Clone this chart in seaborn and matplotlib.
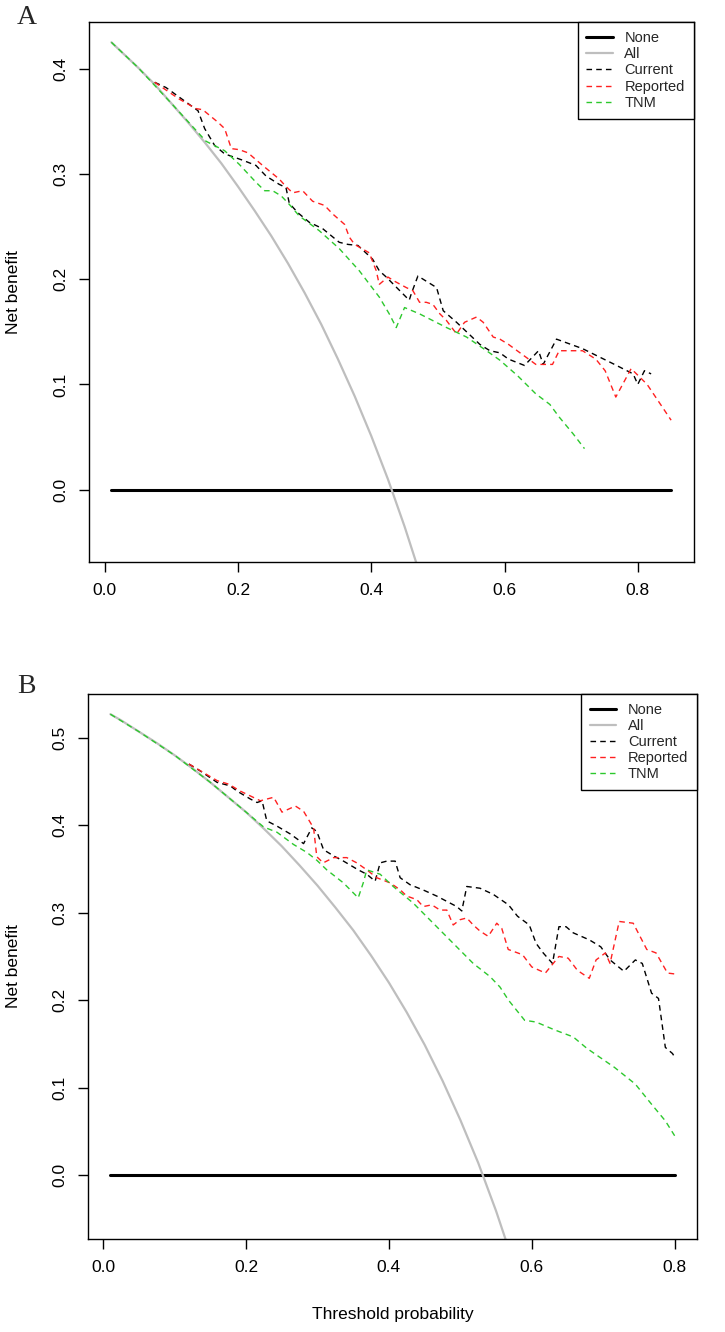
import matplotlib
matplotlib.use("Agg")
import matplotlib.pyplot as plt
import seaborn as sns
from matplotlib.lines import Line2D

# ---- panel A data ----
none_a_x = [0.01, 0.85]
none_a_y = [0.0, 0.0]
all_a_x = [0.01, 0.025, 0.05, 0.075, 0.10, 0.125, 0.15, 0.175, 0.20, 0.225, 0.25,
           0.275, 0.30, 0.325, 0.35, 0.375, 0.40, 0.425, 0.45, 0.475, 0.50]
all_a_y = [0.425, 0.416, 0.401, 0.385, 0.367, 0.349, 0.330, 0.310, 0.288, 0.265, 0.241,
           0.215, 0.187, 0.157, 0.124, 0.089, 0.051, 0.010, -0.035, -0.084, -0.139]
cur_a_x = [0.075, 0.092, 0.140, 0.150, 0.165, 0.180, 0.207, 0.227, 0.242, 0.262, 0.272,
           0.277, 0.290, 0.307, 0.327, 0.352, 0.365, 0.380, 0.402, 0.412, 0.4225, 0.435,
           0.457, 0.460, 0.470, 0.498, 0.508, 0.528, 0.563, 0.578, 0.593, 0.606, 0.630,
           0.651, 0.658, 0.678, 0.717, 0.765, 0.793, 0.800, 0.810, 0.820]
cur_a_y = [0.387, 0.382, 0.360, 0.343, 0.327, 0.319, 0.313, 0.308, 0.298, 0.290, 0.287,
           0.272, 0.263, 0.254, 0.248, 0.235, 0.233, 0.232, 0.219, 0.208, 0.202, 0.194,
           0.180, 0.186, 0.203, 0.192, 0.170, 0.159, 0.138, 0.132, 0.130, 0.124, 0.118,
           0.132, 0.119, 0.143, 0.134, 0.119, 0.110, 0.100, 0.113, 0.110]
rep_a_x = [0.075, 0.112, 0.137, 0.147, 0.170, 0.180, 0.190, 0.202, 0.215, 0.237, 0.262,
           0.272, 0.282, 0.297, 0.312, 0.330, 0.342, 0.360, 0.367, 0.375, 0.397, 0.4075,
           0.412, 0.425, 0.435, 0.4525, 0.4625, 0.4725, 0.4826, 0.4925, 0.503, 0.5125,
           0.528, 0.540, 0.558, 0.568, 0.583, 0.593, 0.606, 0.647, 0.672, 0.682, 0.717,
           0.737, 0.751, 0.767, 0.790, 0.814, 0.850]
rep_a_y = [0.387, 0.371, 0.362, 0.361, 0.349, 0.343, 0.324, 0.323, 0.320, 0.308, 0.295,
           0.288, 0.282, 0.284, 0.274, 0.270, 0.262, 0.252, 0.240, 0.233, 0.225, 0.208,
           0.195, 0.202, 0.198, 0.192, 0.189, 0.178, 0.178, 0.176, 0.167, 0.161,
           0.148, 0.159, 0.164, 0.159, 0.145, 0.143, 0.138, 0.119, 0.119, 0.132, 0.132,
           0.124, 0.113, 0.088, 0.115, 0.100, 0.066]
tnm_a_x = [0.01, 0.05, 0.10, 0.152, 0.180, 0.202, 0.227, 0.240, 0.252, 0.265, 0.277,
           0.292, 0.322, 0.352, 0.382, 0.412, 0.427, 0.4375, 0.450, 0.4725, 0.513, 0.543,
           0.573, 0.593, 0.620, 0.647, 0.668, 0.682, 0.703, 0.720]
tnm_a_y = [0.425, 0.401, 0.367, 0.331, 0.322, 0.309, 0.292, 0.284, 0.284, 0.279, 0.271,
           0.260, 0.246, 0.229, 0.208, 0.183, 0.167, 0.154, 0.173, 0.167, 0.154, 0.145,
           0.132, 0.123, 0.108, 0.091, 0.081, 0.069, 0.053, 0.039]

# ---- panel B data ----
none_b_x = [0.01, 0.80]
none_b_y = [0.0, 0.0]
all_b_x = [0.01, 0.025, 0.05, 0.075, 0.10, 0.125, 0.15, 0.175, 0.20, 0.225, 0.25, 0.275,
           0.30, 0.325, 0.35, 0.375, 0.40, 0.425, 0.45, 0.475, 0.50, 0.525, 0.55, 0.575, 0.60]
all_b_y = [0.527, 0.520, 0.507, 0.494, 0.480, 0.465, 0.449, 0.432, 0.415, 0.396, 0.376, 0.354,
           0.331, 0.306, 0.280, 0.251, 0.220, 0.186, 0.149, 0.108, 0.063, 0.014, -0.041,
           -0.102, -0.171]
cur_b_x = [0.12, 0.136, 0.1595, 0.178, 0.1875, 0.206, 0.2154, 0.2224, 0.229, 0.2433, 0.262,
           0.2805, 0.292, 0.299, 0.3085, 0.3225, 0.3364, 0.357, 0.369, 0.3807, 0.3877, 0.397,
           0.4087, 0.4157, 0.4296, 0.448, 0.467, 0.481, 0.495, 0.502, 0.509, 0.5275, 0.546,
           0.5674, 0.580, 0.5965, 0.606, 0.616, 0.629, 0.638, 0.648, 0.658, 0.6805, 0.6966,
           0.7096, 0.729, 0.745, 0.7547, 0.7677, 0.7774, 0.787, 0.797, 0.80]
cur_b_y = [0.470, 0.462, 0.449, 0.445, 0.439, 0.430, 0.426, 0.428, 0.405, 0.399, 0.390,
           0.379, 0.397, 0.393, 0.372, 0.365, 0.359, 0.349, 0.344, 0.336, 0.357, 0.359,
           0.359, 0.340, 0.332, 0.326, 0.319, 0.313, 0.307, 0.302, 0.330, 0.328, 0.321,
           0.309, 0.296, 0.286, 0.265, 0.254, 0.242, 0.284, 0.284, 0.277, 0.269, 0.261,
           0.246, 0.233, 0.246, 0.242, 0.208, 0.202, 0.146, 0.139, 0.135]
rep_b_x = [0.12, 0.1595, 0.1757, 0.192, 0.220, 0.2386, 0.2503, 0.269, 0.2805, 0.290, 0.2945,
           0.299, 0.308, 0.3225, 0.341, 0.355, 0.369, 0.383, 0.402, 0.416, 0.425, 0.439,
           0.448, 0.460, 0.4716, 0.481, 0.490, 0.4995, 0.509, 0.518, 0.5275, 0.539, 0.551,
           0.558, 0.567, 0.587, 0.600, 0.619, 0.638, 0.651, 0.664, 0.6805, 0.690, 0.703,
           0.7096, 0.7224, 0.742, 0.761, 0.774, 0.790, 0.80]
rep_b_y = [0.470, 0.451, 0.447, 0.439, 0.428, 0.432, 0.415, 0.422, 0.416, 0.403, 0.397,
           0.364, 0.357, 0.363, 0.363, 0.357, 0.349, 0.340, 0.334, 0.326, 0.319, 0.315,
           0.307, 0.309, 0.303, 0.303, 0.286, 0.292, 0.294, 0.286, 0.279, 0.273, 0.288,
           0.282, 0.258, 0.252, 0.238, 0.231, 0.250, 0.248, 0.234, 0.225, 0.246, 0.254,
           0.242, 0.290, 0.288, 0.258, 0.254, 0.231, 0.230]
tnm_b_x = [0.01, 0.05, 0.10, 0.15, 0.20, 0.2246, 0.2433, 0.2665, 0.285, 0.299, 0.313,
           0.3364, 0.357, 0.364, 0.369, 0.3877, 0.406, 0.434, 0.462, 0.490, 0.518, 0.5415,
           0.5555, 0.5674, 0.590, 0.606, 0.632, 0.658, 0.677, 0.716, 0.745, 0.7677, 0.787, 0.80]
tnm_b_y = [0.527, 0.507, 0.480, 0.449, 0.415, 0.398, 0.392, 0.378, 0.369, 0.360, 0.349,
           0.334, 0.317, 0.334, 0.349, 0.344, 0.330, 0.311, 0.288, 0.265, 0.242, 0.227,
           0.215, 0.200, 0.177, 0.175, 0.166, 0.158, 0.145, 0.123, 0.104, 0.081, 0.062, 0.045]

labels = ["None", "All", "Current", "Reported", "TNM"]
colors = ["black", "#BEBEBE", "black", "#FF2020", "#2DC82D"]
widths = [2.2, 1.6, 1.0, 1.0, 1.0]
dash = (0, (4, 3))
styles = ["-", "-", dash, dash, dash]

sns.set_theme(style="ticks")
plt.rcParams["font.family"] = ["Liberation Sans", "DejaVu Sans"]

fig = plt.figure(figsize=(7.25, 13.32), dpi=100)
W, H = 725, 1332
ax_a = fig.add_axes([89 / W, 1 - 562.3 / H, (693.5 - 89) / W, (562.3 - 22.3) / H])
ax_b = fig.add_axes([87.8 / W, 1 - 1239 / H, (697.2 - 87.8) / W, (1239 - 694) / H])

panels = [
    (ax_a, [(none_a_x, none_a_y), (all_a_x, all_a_y), (cur_a_x, cur_a_y),
            (rep_a_x, rep_a_y), (tnm_a_x, tnm_a_y)],
     (0.01, 0.85), (-0.05, 0.425), [0.0, 0.1, 0.2, 0.3, 0.4]),
    (ax_b, [(none_b_x, none_b_y), (all_b_x, all_b_y), (cur_b_x, cur_b_y),
            (rep_b_x, rep_b_y), (tnm_b_x, tnm_b_y)],
     (0.01, 0.80), (-0.05, 0.527), [0.0, 0.1, 0.2, 0.3, 0.4, 0.5]),
]

for ax, series, xr, yr, yticks in panels:
    for (xs, ys), c, lw, ls in zip(series, colors, widths, styles):
        sns.lineplot(x=xs, y=ys, ax=ax, color=c, linewidth=lw, linestyle=ls,
                     estimator=None, sort=False)
    # R style 4% axis expansion
    dx = (xr[1] - xr[0]) * 0.04
    dy = (yr[1] - yr[0]) * 0.04
    ax.set_xlim(xr[0] - dx, xr[1] + dx)
    ax.set_ylim(yr[0] - dy, yr[1] + dy)
    ax.set_xticks([0.0, 0.2, 0.4, 0.6, 0.8])
    ax.set_xticklabels(["0.0", "0.2", "0.4", "0.6", "0.8"])
    ax.set_yticks(yticks)
    ax.set_yticklabels([f"{t:.1f}" for t in yticks])
    ax.tick_params(axis="both", direction="out", length=7, width=1, labelsize=12.5,
                   colors="black", pad=8)
    for lab in ax.get_yticklabels():
        lab.set_rotation(90)
        lab.set_va("center")
    for sp in ax.spines.values():
        sp.set_visible(True)
        sp.set_color("black")
        sp.set_linewidth(1.0)
    ax.set_ylabel("Net benefit", fontsize=12.5, color="black")
    ax.yaxis.label.set_va("center")
    ax.set_xlabel("")
    handles = [Line2D([0], [0], color=c, lw=lw, linestyle=ls)
               for c, lw, ls in zip(colors, widths, styles)]
    leg = ax.legend(handles, labels, loc="upper right", bbox_to_anchor=(1, 1),
                    borderaxespad=0, fontsize=10.5, handlelength=1.8,
                    handletextpad=0.8, labelspacing=0.15, borderpad=0.6,
                    fancybox=False, framealpha=1)
    leg.get_frame().set_edgecolor("black")
    leg.get_frame().set_linewidth(1.0)

ax_a.yaxis.set_label_coords((14 - 89) / 604.5, 0.5)
ax_b.yaxis.set_label_coords((14 - 87.8) / 609.4, 0.5)
ax_b.set_xlabel("Threshold probability", fontsize=12.5, color="black")
ax_b.xaxis.label.set_va("center")
ax_b.xaxis.set_label_coords(0.5, (1239 - 1315) / 545)

fig.text(27 / W, 1 - 17 / H, "A", fontsize=20, family="Liberation Serif",
         ha="center", va="center")
fig.text(26 / W, 1 - 687 / H, "B", fontsize=20, family="Liberation Serif",
         ha="center", va="center")

fig.savefig("out.png", dpi=100, facecolor="white")
